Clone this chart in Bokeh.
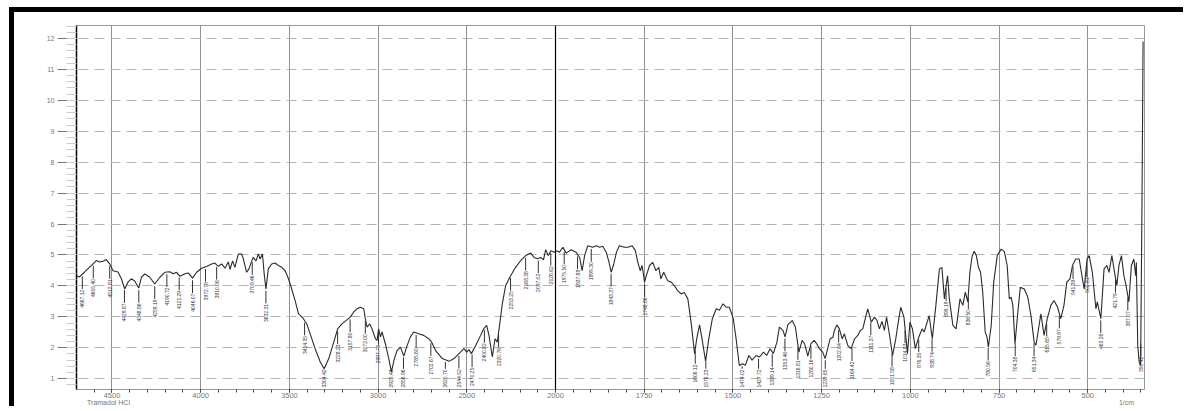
import numpy as np
from bokeh.plotting import figure
from bokeh.models import Range1d, FixedTicker, Span, Label, ColumnDataSource, LinearAxis
from bokeh.embed import file_html
from bokeh.resources import INLINE
from bokeh.core.properties import value

# ---------------- data ----------------
wavenumber = [
    4701, 4683, 4654, 4626, 4588, 4570, 4551, 4532, 4513, 4494, 4466, 4447, 4428, 4410, 4391,
    4372, 4349, 4334, 4315, 4287, 4259, 4230, 4202, 4174, 4155, 4136, 4117, 4089, 4070, 4046,
    4023, 3995, 3967, 3938, 3920, 3901, 3882, 3863, 3844, 3835, 3820, 3807, 3788, 3769, 3760,
    3741, 3728, 3715, 3704, 3688, 3675, 3665, 3652, 3641, 3632, 3619, 3600, 3581, 3562, 3543,
    3524, 3505, 3487, 3468, 3449, 3421, 3402, 3383, 3355, 3326, 3304, 3278, 3250, 3228, 3204,
    3176, 3157, 3138, 3119, 3100, 3081, 3072, 3062, 3047, 3034, 3015, 3006, 2997, 2987, 2978,
    2959, 2940, 2925, 2908, 2893, 2874, 2855, 2837, 2818, 2799, 2771, 2743, 2714, 2700, 2675,
    2638, 2600, 2572, 2544, 2516, 2500, 2488, 2474, 2450, 2422, 2403, 2388, 2375, 2356, 2341,
    2328, 2313, 2300, 2281, 2253, 2225, 2196, 2168, 2140, 2121, 2102, 2083, 2068, 2055, 2041,
    2026, 2007, 1998, 1989, 1979, 1970, 1956, 1942, 1932, 1925, 1918, 1909, 1895, 1885, 1876,
    1867, 1857, 1850, 1843, 1836, 1828, 1820, 1806, 1796, 1784, 1775, 1768, 1761, 1756, 1749,
    1744, 1735, 1726, 1717, 1709, 1703, 1695, 1684, 1674, 1665, 1656, 1646, 1637, 1627, 1618,
    1608, 1602, 1594, 1587, 1577, 1568, 1558, 1547, 1538, 1528, 1519, 1510, 1499, 1491, 1482,
    1472, 1465, 1455, 1446, 1435, 1425, 1414, 1405, 1395, 1386, 1376, 1369, 1359, 1353, 1345,
    1333, 1324, 1314, 1305, 1298, 1289, 1280, 1271, 1264, 1256, 1247, 1240, 1233, 1226, 1218,
    1214, 1207, 1200, 1192, 1186, 1176, 1167, 1157, 1148, 1141, 1134, 1127, 1120, 1110, 1101,
    1094, 1087, 1080, 1073, 1067, 1060, 1050, 1041, 1034, 1027, 1018, 1008, 1001, 994, 986,
    976, 967, 961, 954, 947, 938, 928, 918, 911, 904, 899, 895, 890, 880, 871,
    866, 860, 852, 845, 838, 832, 826, 820, 814, 808, 802, 796, 789, 784, 780,
    772, 765, 755, 744, 735, 727, 721, 716, 711, 705, 697, 690, 679, 669, 660,
    651, 646, 640, 632, 623, 614, 604, 595, 585, 576, 567, 559, 550, 543, 534,
    524, 515, 510, 502, 496, 487, 477, 473, 463, 454, 446, 440, 432, 426, 418,
    412, 405, 398, 392, 384, 377, 370, 365, 363, 359, 355, 351, 347, 344,
]
transmittance = [
    4.33, 4.29, 4.45, 4.61, 4.82, 4.77, 4.80, 4.85, 4.71, 4.49, 4.45, 4.23, 3.90, 4.12, 4.23,
    4.16, 3.93, 4.28, 4.39, 4.28, 4.06, 4.28, 4.44, 4.46, 4.39, 4.44, 4.31, 4.39, 4.42, 4.25,
    4.44, 4.57, 4.63, 4.71, 4.74, 4.63, 4.71, 4.57, 4.78, 4.53, 4.81, 4.60, 5.03, 5.03, 4.88,
    4.44, 4.55, 4.76, 4.92, 4.81, 5.03, 4.87, 5.03, 4.33, 3.90, 4.55, 4.71, 4.74, 4.66, 4.60,
    4.49, 4.23, 3.90, 3.53, 3.10, 2.94, 2.77, 2.45, 1.97, 1.54, 1.32, 1.65, 2.18, 2.61, 2.77,
    2.90, 2.99, 3.15, 3.26, 3.31, 3.26, 2.94, 2.67, 2.77, 2.61, 2.29, 2.24, 2.61, 2.35, 2.51,
    2.13, 1.65, 1.22, 1.65, 1.91, 2.02, 1.73, 2.06, 2.35, 2.51, 2.45, 2.40, 2.29, 2.20, 1.90,
    1.65, 1.56, 1.65, 1.81, 1.97, 1.86, 1.94, 1.81, 2.07, 2.40, 2.63, 2.72, 2.40, 1.70, 2.29,
    2.18, 2.83, 3.42, 4.01, 4.33, 4.60, 4.82, 4.98, 5.06, 4.92, 4.88, 4.92, 4.84, 5.17, 4.98,
    5.14, 5.09, 5.14, 5.09, 5.25, 5.06, 5.17, 5.09, 4.92, 4.49, 4.98, 5.30, 5.25, 5.30, 5.25,
    5.28, 5.09, 4.80, 4.44, 4.70, 5.10, 5.30, 5.25, 5.25, 5.30, 5.14, 4.76, 4.49, 4.66, 4.12,
    4.33, 4.66, 4.76, 4.49, 4.60, 4.23, 4.44, 4.17, 4.12, 4.01, 3.85, 3.74, 3.79, 3.58, 2.83,
    1.81, 2.29, 2.74, 2.29, 1.56, 2.29, 2.94, 3.26, 3.21, 3.42, 3.31, 3.31, 2.94, 2.29, 1.43,
    1.48, 1.43, 1.75, 1.60, 1.75, 1.70, 1.86, 1.75, 1.97, 1.81, 2.18, 2.67, 2.56, 2.35, 2.75,
    2.88, 2.67, 1.86, 2.24, 2.13, 1.73, 2.13, 2.24, 2.13, 1.97, 1.86, 1.65, 1.97, 2.29, 2.34,
    2.56, 2.74, 2.61, 2.29, 2.45, 2.07, 1.97, 2.29, 2.40, 2.56, 2.61, 2.94, 3.26, 2.83, 2.99,
    2.88, 2.61, 2.85, 2.56, 2.99, 2.51, 1.75, 2.29, 2.83, 3.31, 2.99, 1.81, 2.83, 2.61, 1.97,
    2.35, 2.61, 2.51, 2.77, 3.04, 2.29, 3.37, 4.55, 4.60, 3.58, 4.01, 4.33, 3.58, 2.72, 2.61,
    3.04, 3.58, 3.37, 3.80, 3.48, 4.44, 4.95, 5.12, 4.98, 4.60, 4.44, 3.80, 2.51, 2.35, 2.02,
    2.72, 4.12, 4.98, 5.19, 5.11, 4.66, 3.58, 3.64, 3.37, 2.13, 3.15, 3.96, 3.90, 3.64, 3.04,
    2.18, 2.08, 2.51, 3.10, 2.40, 2.94, 3.37, 3.53, 3.31, 2.94, 3.37, 4.12, 4.23, 4.66, 4.87,
    4.87, 4.23, 3.90, 4.87, 4.98, 4.44, 3.26, 3.48, 2.94, 4.55, 4.66, 4.44, 4.98, 4.55, 4.01,
    4.66, 4.98, 4.33, 4.01, 3.48, 4.66, 4.87, 4.33, 4.76, 2.07, 1.54, 1.43, 6.80, 11.90,
]
peak_wavenumbers = [
    4667.12, 4605.40, 4512.81, 4429.87, 4348.86, 4259.19, 4190.72, 4121.29, 4046.07, 3972.78,
    3910.06, 3709.46, 3632.31, 3414.35, 3304.42, 3228.23, 3157.80, 3072.00, 2997.73, 2925.43,
    2856.96, 2785.60, 2702.67, 2620.70, 2544.52, 2470.25, 2400.82, 2320.76, 2253.25, 2168.38,
    2097.02, 2026.62, 1975.50, 1937.88, 1899.30, 1843.37, 1748.86, 1606.12, 1576.23, 1474.02,
    1427.72, 1389.14, 1353.46, 1316.81, 1280.16, 1239.65, 1202.04, 1164.42, 1111.37, 1051.58,
    1014.93, 976.35, 938.74, 899.19, 836.50, 780.56, 704.38, 651.34, 615.65, 579.97,
    541.39, 502.81, 463.26, 421.79, 387.07, 350.42,
]
x_tick_labels = [4500, 4000, 3500, 3000, 2500, 2000, 1750, 1500, 1250, 1000, 750, 500]
y_tick_labels = [1, 2, 3, 4, 5, 6, 7, 8, 9, 10, 11, 12]
sample_name = "Tramadol HCl"
x_unit = "1/cm"
y_unit = "%T"


# the instrument's wavenumber axis is compressed 2:1 above 2000 1/cm
def to_axis(w):
    w = np.asarray(w, dtype=float)
    return np.where(w > 2000, 2000 + (w - 2000) / 2.0, w)


u = to_axis(wavenumber)
T = np.asarray(transmittance, dtype=float)
u_peaks = to_axis(peak_wavenumbers)
order = np.argsort(u)
T_at_peaks = np.interp(u_peaks, u[order], T[order])
label_top = np.maximum(T_at_peaks - 0.5, 1.3)
leader_top = np.maximum(T_at_peaks - 0.07, label_top)
peak_text = [f"{v:.2f}" for v in peak_wavenumbers]

FONT = "Liberation Sans"
OFF_X, OFF_Y, BORDER = 9, 7, 5          # position / width of the printout's black frame
W = 1188 - OFF_X - BORDER
H = 411 - OFF_Y - BORDER
FRAME_L, FRAME_T = 76, 25               # page position of the plot frame
FRAME_W, FRAME_H = 1068, 364
LEFT = FRAME_L - OFF_X - BORDER
TOP = FRAME_T - OFF_Y - BORDER
X_LEFT, X_RIGHT = 2000 + (4700 - 2000) / 2.0, 340
PX_PER_U = FRAME_W / (X_LEFT - X_RIGHT)

p = figure(
    width=W, height=H,
    output_backend="svg", toolbar_location=None,
    x_range=Range1d(X_LEFT, X_RIGHT),
    y_range=Range1d(0.65, 12.42),
    min_border_left=LEFT, min_border_top=TOP,
    min_border_right=W - LEFT - FRAME_W, min_border_bottom=H - TOP - FRAME_H,
    background_fill_color="white", border_fill_color="white",
)
p.styles = {
    "margin-top": f"{OFF_Y}px", "margin-left": f"{OFF_X}px",
    "border-top": f"{BORDER}px solid black", "border-left": f"{BORDER}px solid black",
}
p.outline_line_color = "#999999"
p.outline_line_width = 1

# grids
major_u = [float(v) for v in to_axis(x_tick_labels)]
p.xgrid.ticker = FixedTicker(ticks=[m for m, w in zip(major_u, x_tick_labels) if w != 2000])
p.xgrid.grid_line_color = "#222222"
p.xgrid.grid_line_dash = "1 1"
p.xgrid.grid_line_width = 1
p.ygrid.ticker = FixedTicker(ticks=y_tick_labels)
p.ygrid.grid_line_color = "#b3b3b3"
p.ygrid.grid_line_dash = "10 6"
p.ygrid.grid_line_width = 1
p.add_layout(Span(location=2000, dimension="height", line_color="black", line_width=1.2))

# x axis
p.xaxis.ticker = FixedTicker(ticks=major_u, minor_ticks=list(np.arange(350, 3350, 50)))
p.xaxis.major_label_overrides = {int(m): str(w) for m, w in zip(major_u, x_tick_labels)}
p.xaxis.axis_line_color = None
p.xaxis.major_tick_line_color = "#444444"
p.xaxis.minor_tick_line_color = "#444444"
p.xaxis.major_tick_out = 3
p.xaxis.major_tick_in = 0
p.xaxis.minor_tick_out = 3
p.xaxis.minor_tick_in = 0
p.xaxis.major_label_standoff = 0
p.xaxis.major_label_text_font = FONT
p.xaxis.major_label_text_font_size = "7.5px"
p.xaxis.major_label_text_color = "#777777"

# second row under the x axis: sample name (left) and unit (right)
name_u = X_LEFT - (108 - FRAME_L) / PX_PER_U
unit_u = X_LEFT - (1126 - FRAME_L) / PX_PER_U
caption_axis = LinearAxis(
    ticker=FixedTicker(ticks=[name_u, unit_u]),
    major_label_overrides={name_u: sample_name, unit_u: x_unit},
    axis_line_color=None, major_tick_line_color=None, minor_tick_line_color=None,
    major_tick_out=0, major_tick_in=0, minor_tick_out=0, minor_tick_in=0,
    major_label_standoff=-2, major_label_text_font=FONT,
    major_label_text_font_size="7px", major_label_text_color="#777777",
)
p.add_layout(caption_axis, "below")

# y axis
p.yaxis.ticker = FixedTicker(ticks=y_tick_labels, minor_ticks=list(np.round(np.arange(0.8, 12.5, 0.2), 2)))
p.yaxis.axis_line_color = "black"
p.yaxis.axis_line_width = 1.5
p.yaxis.major_tick_line_color = "#777777"
p.yaxis.minor_tick_line_color = "#cccccc"
p.yaxis.major_tick_out = 19
p.yaxis.major_tick_in = 0
p.yaxis.minor_tick_out = 10
p.yaxis.minor_tick_in = 0
p.yaxis.major_label_standoff = 3
p.yaxis.major_label_text_font = FONT
p.yaxis.major_label_text_font_size = "7px"
p.yaxis.major_label_text_color = "#777777"

# spectrum
p.line(u, T, line_color="#2b2b2b", line_width=1.1)

# peak annotations
src = ColumnDataSource(dict(x=u_peaks, y0=leader_top, y1=label_top + 0.02, yl=label_top, t=peak_text))
p.segment(x0="x", y0="y0", x1="x", y1="y1", source=src, line_color="#333333", line_width=1)
p.text(x="x", y="yl", text="t", source=src, angle=np.pi / 2, text_align="right",
       text_baseline="middle", text_font=value(FONT), text_font_size="5px", text_color="#333344")

# %T caption inside the left border (data units)
p.add_layout(Label(x=3451, y=11.53, text=y_unit, text_align="center", text_baseline="middle",
                   text_font=FONT, text_font_size="7px", text_color="#777777"))

open("out.html", "w").write(file_html(p, INLINE))
